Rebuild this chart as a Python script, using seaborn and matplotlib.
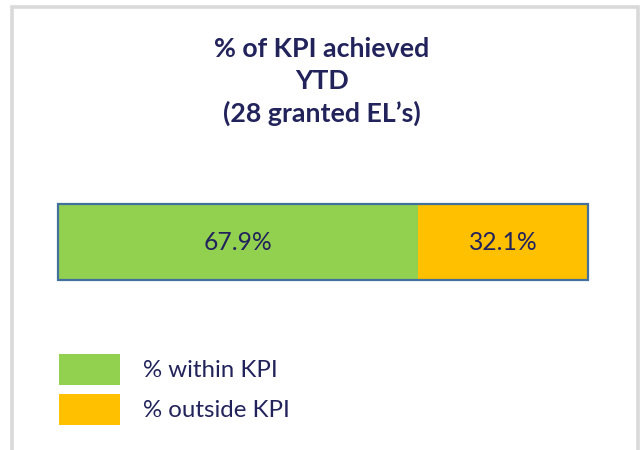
import matplotlib
matplotlib.use("Agg")
import matplotlib.pyplot as plt
import matplotlib.patches as mpatches
import seaborn as sns
import pandas as pd

# data
categories = ["% within KPI", "% outside KPI"]
values = [67.9, 32.1]
colors = ["#92D050", "#FFC000"]
title = "% of KPI achieved\nYTD\n(28 granted EL\u2019s)"

TXT = "#23235C"
sns.set_style("white")
plt.rcParams["font.family"] = ["Lato", "DejaVu Sans"]

fig = plt.figure(figsize=(6.41, 4.50), dpi=100)

# grey panel frame
W, H = 641, 450
frame = mpatches.Rectangle((12 / W, -0.1), (638 - 12) / W, 1.1 - 7 / H,
                           transform=fig.transFigure, fill=False,
                           edgecolor="#D9D9D9", linewidth=2.6)
fig.patches.append(frame)

fig.text(322 / W, 1 - 37 / H, title, ha="center", va="top", fontsize=19.3,
         fontweight="bold", color=TXT, linespacing=1.38)

ax = fig.add_axes([58 / W, 1 - 280 / H, (588 - 58) / W, (280 - 204) / H])

total = sum(values)
df_tot = pd.DataFrame({"v": [total], "y": ["KPI"]})
df_in = pd.DataFrame({"v": [values[0]], "y": ["KPI"]})

# stacked by drawing cumulative totals
sns.barplot(data=df_tot, x="v", y="y", color=colors[1], saturation=1,
            width=1.0, orient="h", ax=ax, linewidth=0)
sns.barplot(data=df_in, x="v", y="y", color=colors[0], saturation=1,
            width=1.0, orient="h", ax=ax, linewidth=0)
sns.barplot(data=df_tot, x="v", y="y", fill=False, width=1.0, orient="h",
            ax=ax, edgecolor="#41719C", linewidth=1.6)
for p in ax.patches:
    p.set_clip_on(False)

left = 0
for v in values:
    ax.text(left + v / 2, 0, f"{v:.1f}%", ha="center", va="center",
            fontsize=17.7, color=TXT)
    left += v

ax.set_xlim(0, total)
ax.set_ylim(0.5, -0.5)
ax.set_axis_off()

handles = [mpatches.Patch(facecolor=c, edgecolor="none") for c in colors]
fig.legend(handles, categories, loc="upper left",
           bbox_to_anchor=(49 / W, 1 - 344 / H), frameon=False, fontsize=17.3,
           handlelength=2.54, handleheight=1.61, handletextpad=0.96,
           labelspacing=0.37, labelcolor=TXT, borderaxespad=0)

fig.savefig("out.png", dpi=100)
